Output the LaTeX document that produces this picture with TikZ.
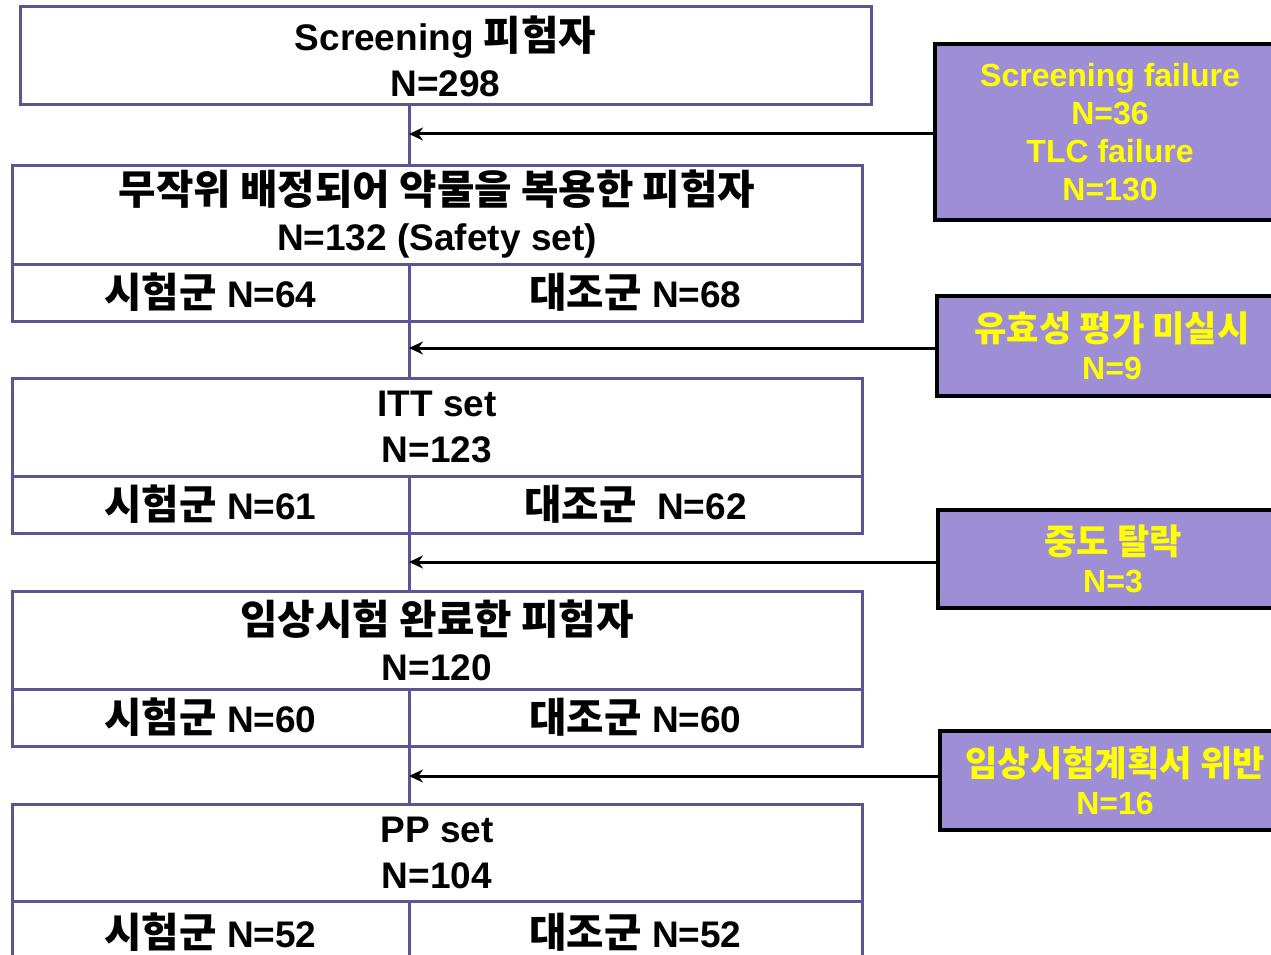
\documentclass[tikz,border=0pt]{standalone}
\usepackage{fontspec}
\setmainfont{Liberation Sans}
\newfontfamily\krfont{Noto Sans CJK KR}[Scale=1.1]
\newcommand{\kor}[1]{{\krfont #1}}
\usetikzlibrary{arrows.meta}
\definecolor{boxc}{RGB}{96,83,148}
\definecolor{lav}{RGB}{158,142,214}
\definecolor{ylw}{RGB}{255,255,0}
\tikzset{
  mainbox/.style={draw=boxc,line width=3pt,inner sep=0pt,outer sep=0pt,align=center,
    font=\fontsize{37}{46}\selectfont\bfseries,text=black},
  cell/.style={draw=boxc,line width=3pt,inner sep=0pt,outer sep=0pt,align=center,
    font=\fontsize{37}{40}\selectfont\bfseries,text=black},
  sidebox/.style={fill=lav,inner sep=0pt,outer sep=0pt,align=center,minimum width=350pt,
    font=\fontsize{32}{38}\selectfont\bfseries,text=ylw},
  sideedge/.style={draw=black,line width=3.5pt},
  spine/.style={draw=boxc,line width=3pt},
  arr/.style={draw=black,line width=3pt,-{Stealth[length=14pt,width=13pt]}}
}
\begin{document}
\begin{tikzpicture}[x=1pt,y=-1pt]
\useasboundingbox (0,0) rectangle (1271,955);
\fill[white] (0,0) rectangle (1271,955);
\coordinate (sx) at (409,0);

% main boxes
\node[mainbox,minimum width=851pt,minimum height=98pt] (b1) at (445.5,56) {Screening \kor{피험자}\\N=298};

\node[mainbox,minimum width=850pt,minimum height=99pt] (b2) at (437,214.5) {\kor{무작위 배정되어 약물을 복용한 피험자}\\N=132 (Safety set)};
\node[cell,minimum width=397pt,minimum height=57pt] (b2l) at (210.5,292.5) {\kor{시험군} N=64};
\node[cell,minimum width=453pt,minimum height=57pt] (b2r) at (635.5,292.5) {\kor{대조군} N=68};

\node[mainbox,minimum width=850pt,minimum height=98pt] (b3) at (437,427) {ITT set\\N=123};
\node[cell,minimum width=397pt,minimum height=57pt] (b3l) at (210.5,504.5) {\kor{시험군} N=61};
\node[cell,minimum width=453pt,minimum height=57pt] (b3r) at (635.5,504.5) {\raisebox{-5pt}{\kor{대조군}~~N=62}};

\node[mainbox,minimum width=850pt,minimum height=98pt] (b4) at (437,640) {\kor{임상시험 완료한 피험자}\\N=120};
\node[cell,minimum width=397pt,minimum height=57pt] (b4l) at (210.5,717.5) {\kor{시험군} N=60};
\node[cell,minimum width=453pt,minimum height=57pt] (b4r) at (635.5,717.5) {\kor{대조군} N=60};

\node[mainbox,minimum width=850pt,minimum height=97pt] (b5) at (437,852.5) {PP set\\N=104};
\node[cell,minimum width=397pt,minimum height=62pt] (b5l) at (210.5,932) {\kor{시험군} N=52};
\node[cell,minimum width=453pt,minimum height=62pt] (b5r) at (635.5,932) {\kor{대조군} N=52};

% spine
\draw[spine] (b1.south -| sx) -- (b2.north -| sx);
\draw[spine] (b2l.south east) -- (b3.north -| sx);
\draw[spine] (b3l.south east) -- (b4.north -| sx);
\draw[spine] (b4l.south east) -- (b5.north -| sx);

% side boxes
\node[sidebox,minimum height=176pt] (r1) at (1110,132) {Screening failure\\N=36\\TLC failure\\N=130};
\node[sidebox,minimum height=100pt] (r2) at (1112,346) {\kor{유효성 평가 미실시}\\N=9};
\node[sidebox,minimum height=98pt] (r3) at (1113,559) {\kor{중도 탈락}\\N=3};
\node[sidebox,minimum height=99pt] (r4) at (1115,780.5) {\kor{임상시험계획서 위반}\\N=16};
\foreach \r in {r1,r2,r3,r4}{
  \draw[sideedge] (\r.north east) -- (\r.north west) -- (\r.south west) -- (\r.south east);
}

% arrows
\draw[arr] ([yshift=-2pt]r1.west) -- ([yshift=-2pt]r1.west -| sx);
\draw[arr] ([yshift=-2pt]r2.west) -- ([yshift=-2pt]r2.west -| sx);
\draw[arr] ([yshift=-3pt]r3.west) -- ([yshift=-3pt]r3.west -| sx);
\draw[arr] ([yshift=4.5pt]r4.west) -- ([yshift=4.5pt]r4.west -| sx);
\end{tikzpicture}
\end{document}
